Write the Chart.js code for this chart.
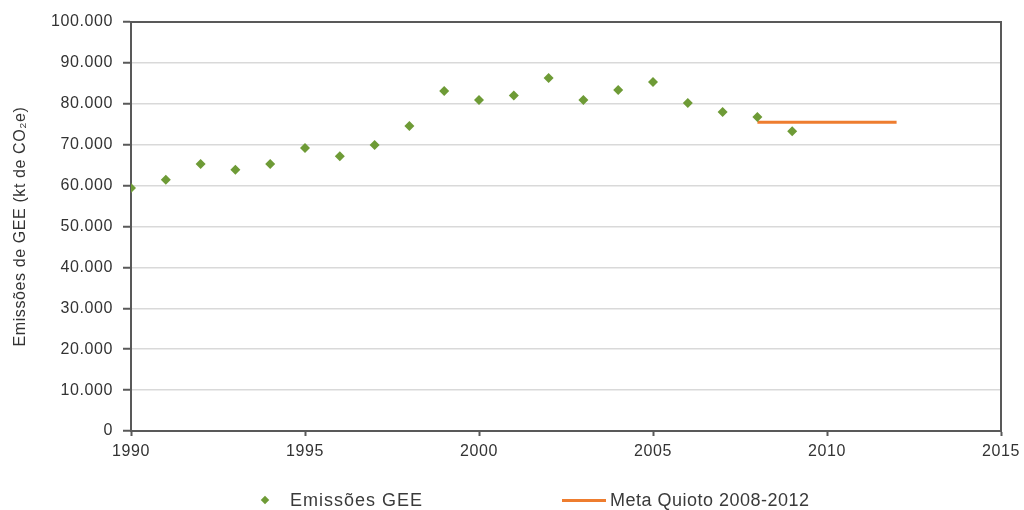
<!DOCTYPE html>
<html lang="pt">
<head>
    <meta charset="UTF-8">
    <title>Emissões de GEE</title>
    <script src="https://cdn.jsdelivr.net/npm/chart.js"></script>
    <style>
        body {
            margin: 0;
            background-color: #ffffff;
            font-family: "Liberation Sans", Arial, sans-serif;
        }
        #wrap {
            position: relative;
            width: 1024px;
            height: 510px;
        }
        .legend-item {
            position: absolute;
            top: 489px;
            height: 22px;
            line-height: 22px;
            font-size: 18px;
            color: #3a3a3a;
            white-space: nowrap;
        }
        .diamond {
            position: absolute;
            width: 6px;
            height: 6px;
            background: #6e9b36;
            transform: rotate(45deg);
        }
        .dash {
            position: absolute;
            height: 3px;
            background: #ee7d2f;
        }
    </style>
</head>
<body>
    <div id="wrap">
        <canvas id="ggeChart" width="1024" height="510"></canvas>
        <div class="diamond" style="left:262px; top:497px;"></div>
        <div class="legend-item" style="left:290px; letter-spacing:1px;">Emissões GEE</div>
        <div class="dash" style="left:562px; top:499px; width:44px;"></div>
        <div class="legend-item" style="left:610px; letter-spacing:0.5px;">Meta Quioto 2008-2012</div>
    </div>

    <script>
        // emissões anuais (kt CO2e)
        const years = [1990, 1991, 1992, 1993, 1994, 1995, 1996, 1997, 1998, 1999,
                       2000, 2001, 2002, 2003, 2004, 2005, 2006, 2007, 2008, 2009];
        const emissions = [59400, 61400, 65300, 63900, 65300, 69200, 67200, 69900, 74600, 83100,
                           80900, 82000, 86300, 80900, 83400, 85300, 80200, 78000, 76800, 73300];

        // meta de Quioto
        const targetYears = [2008, 2012];
        const targetValues = [75500, 75500];

        const xTicks = [1990, 1995, 2000, 2005, 2010, 2015];

        const axisColor = '#595959';
        const textColor = '#333333';

        function fmt(v) {
            return String(v).replace(/\B(?=(\d{3})+(?!\d))/g, '.');
        }

        const spacingPlugin = {
            id: 'spacing',
            beforeUpdate(chart) { chart.ctx.letterSpacing = '0.6px'; },
            beforeDraw(chart) { chart.ctx.letterSpacing = '0.6px'; }
        };

        const framePlugin = {
            id: 'frame',
            afterDraw(chart) {
                const a = chart.chartArea;
                const ctx = chart.ctx;
                ctx.save();
                ctx.strokeStyle = axisColor;
                ctx.lineWidth = 2;
                ctx.beginPath();
                ctx.moveTo(a.left, a.top);
                ctx.lineTo(a.right, a.top);
                ctx.lineTo(a.right, a.bottom);
                ctx.stroke();
                ctx.restore();
            }
        };

        new Chart(document.getElementById('ggeChart'), {
            type: 'scatter',
            data: {
                datasets: [{
                    label: 'Emissões GEE',
                    data: years.map((y, i) => ({ x: y, y: emissions[i] })),
                    pointStyle: 'rectRot',
                    pointRadius: 5,
                    backgroundColor: '#6e9b36',
                    borderColor: '#6e9b36',
                    borderWidth: 0
                }, {
                    label: 'Meta Quioto 2008-2012',
                    data: targetYears.map((y, i) => ({ x: y, y: targetValues[i] })),
                    showLine: true,
                    pointRadius: 0,
                    borderColor: '#ee7d2f',
                    borderWidth: 3
                }]
            },
            options: {
                responsive: false,
                animation: false,
                layout: { padding: { left: 0, right: 23, top: 22, bottom: 0 } },
                plugins: {
                    legend: { display: false },
                    tooltip: { enabled: false }
                },
                scales: {
                    x: {
                        type: 'linear',
                        min: 1990,
                        max: 2015,
                        afterBuildTicks(scale) {
                            scale.ticks = xTicks.map(v => ({ value: v }));
                        },
                        afterFit(scale) {
                            scale.height = 79;
                            scale.paddingLeft = 0;
                            scale.paddingRight = 0;
                        },
                        ticks: {
                            color: textColor,
                            font: { family: 'Liberation Sans', size: 16 },
                            padding: 6,
                            maxRotation: 0,
                            callback: v => String(v)
                        },
                        grid: {
                            drawOnChartArea: false,
                            tickLength: 5,
                            tickColor: axisColor,
                            tickWidth: 2
                        },
                        border: { color: axisColor, width: 2 }
                    },
                    y: {
                        min: 0,
                        max: 100000,
                        afterFit(scale) { scale.width = 131; },
                        ticks: {
                            stepSize: 10000,
                            color: textColor,
                            font: { family: 'Liberation Sans', size: 16 },
                            padding: 10,
                            callback: v => fmt(v)
                        },
                        grid: {
                            color: '#d9d9d9',
                            lineWidth: 1.5,
                            tickLength: 8,
                            tickColor: axisColor,
                            tickWidth: 2
                        },
                        border: { color: axisColor, width: 2 },
                        title: {
                            display: true,
                            text: 'Emissões de GEE (kt de CO₂e)',
                            color: '#333333',
                            font: { family: 'Liberation Sans', size: 16 },
                            padding: { top: 11, bottom: 0 }
                        }
                    }
                }
            },
            plugins: [spacingPlugin, framePlugin]
        });
    </script>
</body>
</html>
